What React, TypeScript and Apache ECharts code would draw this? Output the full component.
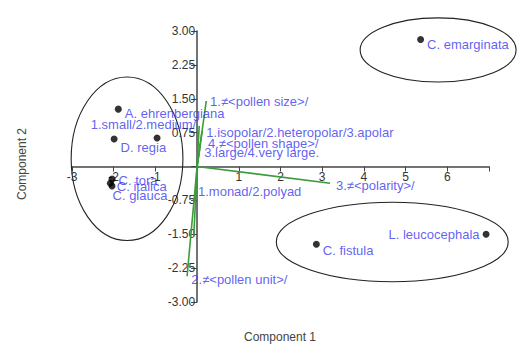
import React, { useEffect, useRef } from "react";
import * as echarts from "echarts";

// Species scores (Component 1, Component 2)
const speciesNames = ["A. ehrenbergiana", "D. regia", "", "C. tora", "C. italica", "C. glauca", "C. emarginata", "C. fistula", "L. leucocephala"];
const speciesX = [-1.89, -1.99, -0.96, -2.04, -2.08, -2.04, 5.36, 2.86, 6.93];
const speciesY = [1.27, 0.61, 0.63, -0.28, -0.37, -0.43, 2.81, -1.72, -1.50];

// Biplot vectors (end points)
const vectorX = [0.22, 0.12, 0.08, 0.05, 3.19, -0.24, -0.08];
const vectorY = [1.45, 0.78, 0.5, 0.9, -0.37, -2.43, -1.55];

// Variable labels and their anchor points
const varLabels = [
  "1.≠<pollen size>/",
  "1.small/2.medium/",
  "1.isopolar/2.heteropolar/3.apolar",
  "4.≠<pollen shape>/",
  "3.large/4.very large.",
  "1.monad/2.polyad",
  "3.≠<polarity>/",
  "2.≠<pollen unit>/",
];
const varLabelX = [0.31, -0.02, 0.22, 0.26, 0.17, 0.02, 3.33, -0.14];
const varLabelY = [1.45, 0.92, 0.76, 0.52, 0.32, -0.56, -0.43, -2.51];

// Group ellipses: centre x, centre y, radius x, radius y (data units)
const ellipseCX = [-1.68, 5.78, 4.68];
const ellipseCY = [0.17, 2.58, -1.67];
const ellipseRX = [1.34, 1.87, 2.78];
const ellipseRY = [1.81, 0.71, 0.88];

const X_MIN = -3, X_MAX = 7, Y_MIN = -3, Y_MAX = 3;
const xTicksHidden = [0, 7];
const FONT = "Liberation Sans";
const BLUE = "#3838ee";
const GREEN = "#3a9c3a";
const AXIS = "#444";

const GRID = { left: 72, right: 35, top: 31, bottom: 49 };
const W = 524, H = 351;

export default function App() {
  const ref = useRef<HTMLDivElement>(null);
  useEffect(() => {
    if (!ref.current) return;
    const chart = echarts.init(ref.current, null, { renderer: "svg" });

    // place axes through the origin (biplot style)
    const gw = W - GRID.left - GRID.right;
    const gh = H - GRID.top - GRID.bottom;
    const yAxisOffset = -((0 - X_MIN) / (X_MAX - X_MIN)) * gw;
    const xAxisOffset = -((0 - Y_MIN) / (Y_MAX - Y_MIN)) * gh;

    const labelStyles: any[] = [
      { position: "right", offset: [0, 4] },
      { position: "right", offset: [0, 9] },
      { show: false },
      { position: "right", offset: [0, 1] },
      { position: "right", offset: [0, 3] },
      { position: "right", offset: [-6, 10] },
      { position: "right", offset: [0, 5] },
      { position: "right", offset: [0, 6] },
      { position: "left", offset: [0, 0] },
    ];

    const speciesData = speciesNames.map((n, i) => ({
      name: n,
      value: [speciesX[i], speciesY[i]],
      label: { show: true, distance: 3, ...labelStyles[i] },
    }));

    const vectorData = vectorX.map((x, i) => ({ coords: [[0, 0], [x, vectorY[i]]] }));

    const varData = varLabels.map((t, i) => ({
      name: t,
      value: [varLabelX[i], varLabelY[i]],
      label: { position: i === 1 ? "left" : "right" },
    }));

    const ellipseData = ellipseCX.map((cx, i) => [cx, ellipseCY[i], ellipseRX[i], ellipseRY[i]]);

    chart.setOption({
      animation: false,
      grid: { ...GRID, containLabel: false },
      xAxis: {
        type: "value",
        position: "bottom",
        offset: xAxisOffset,
        min: X_MIN,
        max: X_MAX,
        interval: 1,
        axisLine: { show: true, onZero: false, lineStyle: { color: AXIS, width: 1.5 } },
        axisTick: { show: true, length: 5, lineStyle: { color: AXIS } },
        axisLabel: {
          color: "#333",
          fontFamily: FONT,
          fontSize: 12,
          margin: 4,
          formatter: (v: number) => (xTicksHidden.includes(v) ? "" : String(v)),
        },
        splitLine: { show: false },
      },
      yAxis: {
        type: "value",
        position: "left",
        offset: yAxisOffset,
        min: Y_MIN,
        max: Y_MAX,
        interval: 0.75,
        axisLine: { show: true, onZero: false, lineStyle: { color: AXIS, width: 1.5 } },
        axisTick: { show: true, length: 6, lineStyle: { color: AXIS } },
        axisLabel: {
          color: "#333",
          fontFamily: FONT,
          fontSize: 12,
          margin: 2,
          formatter: (v: number) => (v === 0 ? "" : v.toFixed(2)),
        },
        splitLine: { show: false },
      },
      graphic: [
        {
          type: "text",
          left: 244,
          top: 331,
          style: { text: "Component 1", fill: "#444", font: `12px ${FONT}` },
        },
        {
          type: "text",
          x: 16,
          y: 200,
          rotation: Math.PI / 2,
          style: { text: "Component 2", fill: "#444", font: `12px ${FONT}` },
        },
      ],
      series: [
        {
          type: "custom",
          coordinateSystem: "cartesian2d",
          clip: false,
          silent: true,
          data: ellipseData,
          renderItem: (params: any, api: any) => {
            const c = api.coord([api.value(0), api.value(1)]);
            const s = api.size([api.value(2), api.value(3)]);
            return {
              type: "ellipse",
              shape: { cx: c[0], cy: c[1], rx: s[0], ry: s[1] },
              style: { fill: "none", stroke: "#222", lineWidth: 1.1 },
            };
          },
        },
        {
          type: "lines",
          coordinateSystem: "cartesian2d",
          silent: true,
          lineStyle: { color: GREEN, width: 1.6, opacity: 1 },
          data: vectorData,
        },
        {
          type: "scatter",
          symbolSize: 0.1,
          silent: true,
          label: {
            show: true,
            distance: 0,
            formatter: "{b}",
            color: BLUE,
            fontFamily: FONT,
            fontSize: 13,
          },
          data: varData,
        },
        {
          type: "scatter",
          symbolSize: 7,
          itemStyle: { color: "#000" },
          label: {
            formatter: "{b}",
            color: BLUE,
            fontFamily: FONT,
            fontSize: 13,
          },
          data: speciesData,
        },
      ],
    });
    return () => chart.dispose();
  }, []);
  return <div ref={ref} style={{ position: "fixed", left: 0, top: 0, width: 524, height: 351, background: "#fff" }} />;
}
